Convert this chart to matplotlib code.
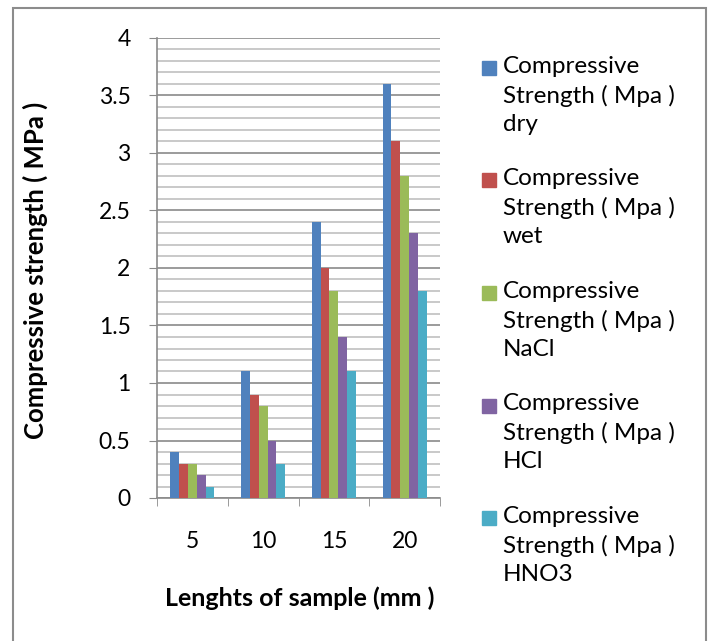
import matplotlib.pyplot as plt
import numpy as np
from matplotlib.patches import Rectangle
from matplotlib.ticker import MultipleLocator, FuncFormatter

plt.rcParams['font.family'] = ['Lato', 'DejaVu Sans']

lengths = ["5", "10", "15", "20"]
series = ["Compressive\nStrength ( Mpa )\ndry",
          "Compressive\nStrength ( Mpa )\nwet",
          "Compressive\nStrength ( Mpa )\nNaCl",
          "Compressive\nStrength ( Mpa )\nHCl",
          "Compressive\nStrength ( Mpa )\nHNO3"]
dry = [0.4, 1.1, 2.4, 3.6]
wet = [0.3, 0.9, 2.0, 3.1]
nacl = [0.3, 0.8, 1.8, 2.8]
hcl = [0.2, 0.5, 1.4, 2.3]
hno3 = [0.1, 0.3, 1.1, 1.8]
colors = ["#4F81BD", "#C0504D", "#9BBB59", "#8064A2", "#4BACC6"]

W, H = 712, 641
fig = plt.figure(figsize=(W/100, H/100), dpi=100)
ax = fig.add_axes([157/W, 1-498/H, (440-157)/W, (498-38)/H])

# chart border
fig.patches.append(Rectangle((13/W, -0.01), (706-13)/W, 1-8/H+0.01,
                             transform=fig.transFigure, fill=False,
                             edgecolor="#8c8c8c", linewidth=1.5))

x = np.arange(len(lengths))
w = 0.125
for i, vals in enumerate([dry, wet, nacl, hcl, hno3]):
    ax.bar(x + (i - 2) * w, vals, w, color=colors[i], label=series[i], zorder=3)

ax.set_xlim(-0.5, 3.5)
ax.set_ylim(0, 4)
ax.yaxis.set_major_locator(MultipleLocator(0.5))
ax.yaxis.set_minor_locator(MultipleLocator(0.1))
ax.yaxis.set_major_formatter(FuncFormatter(lambda v, p: "%g" % v))
ax.grid(which="major", axis="y", color="#8a8a8a", linewidth=1.2, zorder=0)
ax.grid(which="minor", axis="y", color="#c0c0c0", linewidth=1.2, zorder=0)
ax.tick_params(axis="y", which="minor", length=0)
ax.tick_params(axis="y", which="major", length=6, color="#8a8a8a", pad=13, labelsize=16.5)

ax.set_xticks(x)
ax.set_xticklabels(lengths)
ax.set_xticks(np.arange(-0.5, 4, 1), minor=True)
ax.tick_params(axis="x", which="major", length=0, pad=24, labelsize=16.5)
ax.tick_params(axis="x", which="minor", length=6, color="#8a8a8a")

for s in ["top", "right"]:
    ax.spines[s].set_visible(False)
for s in ["left", "bottom"]:
    ax.spines[s].set_color("#8a8a8a")
    ax.spines[s].set_linewidth(1.2)

# axis titles
fig.text(300/W, 1-598/H, "Lenghts of sample (mm )", fontsize=18, fontweight="bold",
         ha="center", va="center")
fig.text(35/W, 1-270/H, "Compressive strength ( MPa )", fontsize=18.5, fontweight="bold",
         ha="center", va="center", rotation=90)

# legend: square beside the first line of each entry
for i, lab in enumerate(series):
    yc = 68 + i * 112.5
    fig.patches.append(Rectangle((482/W, 1-(yc+7)/H), 14/W, 14/H,
                                 transform=fig.transFigure, color=colors[i]))
    fig.text(503/W, 1-(yc-12)/H, lab, fontsize=17.5, ha="left", va="top",
             linespacing=1.42)

fig.savefig("out.png", dpi=100)
